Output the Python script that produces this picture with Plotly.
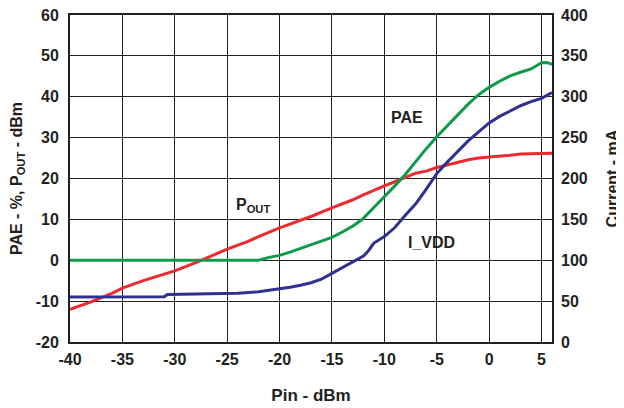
import plotly.graph_objects as go

# Pin (dBm) samples and values
pout_x = [-40, -38, -36, -35, -33, -31, -30, -28, -27, -25, -23, -22, -20, -18, -17, -15,
          -13, -12, -11, -10, -9, -8, -7, -6, -5, -4, -3, -2, -1, 0, 1, 2, 3, 4, 5, 6]
pout_y = [-12.0, -10.2, -8.1, -6.8, -5.0, -3.4, -2.6, -0.6, 0.5, 2.7, 4.6, 5.8, 7.9, 9.8, 10.7, 12.8,
          14.8, 16.0, 17.2, 18.2, 19.2, 20.3, 21.3, 21.8, 22.7, 23.3, 24.0, 24.6, 25.0, 25.2, 25.4,
          25.7, 26.0, 26.1, 26.2, 26.2]

pae_x = [-40, -22, -21, -20, -19, -18, -17, -16, -15, -14, -13, -12, -11.8, -11, -10, -9, -8,
         -7, -6, -5, -4, -3, -2, -1, 0, 1, 2, 3, 4, 5, 5.5, 6]
pae_y = [0, 0, 0.7, 1.2, 2.0, 2.9, 3.7, 4.6, 5.6, 6.9, 8.4, 10.2, 10.8, 12.9, 15.5, 18.2, 21.0,
         24.2, 27.3, 30.2, 32.9, 35.5, 38.2, 40.5, 42.3, 43.8, 45.1, 46.0, 46.8, 48.3, 48.4, 47.9]

ivdd_x = [-40, -31, -30.7, -25, -24, -22, -20, -19, -18, -17, -16, -15, -14, -13, -12, -11.5,
          -11, -10, -9, -8, -7, -6, -5, -4, -3, -2, -1, 0, 1, 2, 3, 4, 5, 6]
ivdd_y = [55, 55.5, 58, 58.5, 59.5, 61.5, 65, 67, 69.5, 72.5, 77, 84, 91, 99, 105, 112,
          121, 129, 140, 155, 169, 187, 206, 220, 233, 246, 257, 268, 276, 283, 289, 294, 298, 305]

x_ticks = [-40, -35, -30, -25, -20, -15, -10, -5, 0, 5]
x_labels = ["-40", "-35", "-30", "-25", "-20", "-15", "-10", "-5", "0", "5"]
y_ticks = [-20, -10, 0, 10, 20, 30, 40, 50, 60]
y_labels = ["-20", "-10", "0", "10", "20", "30", "40", "50", "60"]
y2_ticks = [0, 50, 100, 150, 200, 250, 300, 350, 400]
y2_labels = ["0", "50", "100", "150", "200", "250", "300", "350", "400"]

RED = "#ee2a2e"
GREEN = "#0f9a4a"
BLUE = "#2e3192"
INK = "#231f20"
FONT = "Liberation Sans"

fig = go.Figure()
fig.add_trace(go.Scatter(x=pout_x, y=pout_y, mode="lines", line=dict(color=RED, width=3),
                         name="POUT", showlegend=False))
fig.add_trace(go.Scatter(x=pae_x, y=pae_y, mode="lines", line=dict(color=GREEN, width=3),
                         name="PAE", showlegend=False))
fig.add_trace(go.Scatter(x=ivdd_x, y=ivdd_y, mode="lines", line=dict(color=BLUE, width=3),
                         name="I_VDD", yaxis="y2", showlegend=False))

tick_font = dict(family=FONT, size=16, color=INK, weight="bold")

# the page body adds an 8px margin, so the figure is 616x400 and margins are offset by 8px
fig.update_layout(
    width=616, height=400,
    margin=dict(l=62, r=72, t=7, b=66, autoexpand=False),
    paper_bgcolor="white", plot_bgcolor="white",
    font=dict(family=FONT, size=15, color=INK, weight="bold"),
    xaxis=dict(range=[-40, 6], tickvals=x_ticks, ticktext=x_labels, showgrid=True,
               gridcolor=INK, gridwidth=1, zeroline=False, showline=True, linecolor=INK,
               linewidth=2, mirror=True, ticks="", tickfont=tick_font, automargin=False,
               ticklabelstandoff=2, ticklabeloverflow="allow",
               title=dict(text="Pin - dBm", standoff=22,
                          font=dict(family=FONT, size=17, color=INK, weight="bold"))),
    yaxis=dict(range=[-20, 60], tickvals=y_ticks, ticktext=y_labels, showgrid=True,
               gridcolor=INK, gridwidth=1, zeroline=False, showline=True, linecolor=INK,
               linewidth=2, mirror=True, ticks="", tickfont=tick_font, automargin=False,
               ticklabelstandoff=6, ticklabeloverflow="allow",
               title=dict(text="PAE - %, P<sub>OUT</sub> - dBm", standoff=10,
                          font=dict(family=FONT, size=16, color=INK, weight="bold"))),
    yaxis2=dict(range=[0, 400], tickvals=y2_ticks, ticktext=y2_labels, overlaying="y",
                side="right", showgrid=False, zeroline=False, showline=False, ticks="",
                tickfont=tick_font, automargin=False, ticklabelstandoff=8,
                ticklabeloverflow="allow",
                title=dict(text="Current - mA", standoff=20,
                           font=dict(family=FONT, size=16, color=INK, weight="bold"))),
)

ann_font = dict(family=FONT, size=16, color=INK, weight="bold")
fig.add_annotation(x=-7.8, y=35.0, text="PAE", showarrow=False, font=ann_font)
fig.add_annotation(x=-22.5, y=13.4, text="P<sub>OUT</sub>", showarrow=False, font=ann_font)
fig.add_annotation(x=-5.5, y=4.4, text="I_VDD", showarrow=False, font=ann_font)

fig.write_html("out.html")
